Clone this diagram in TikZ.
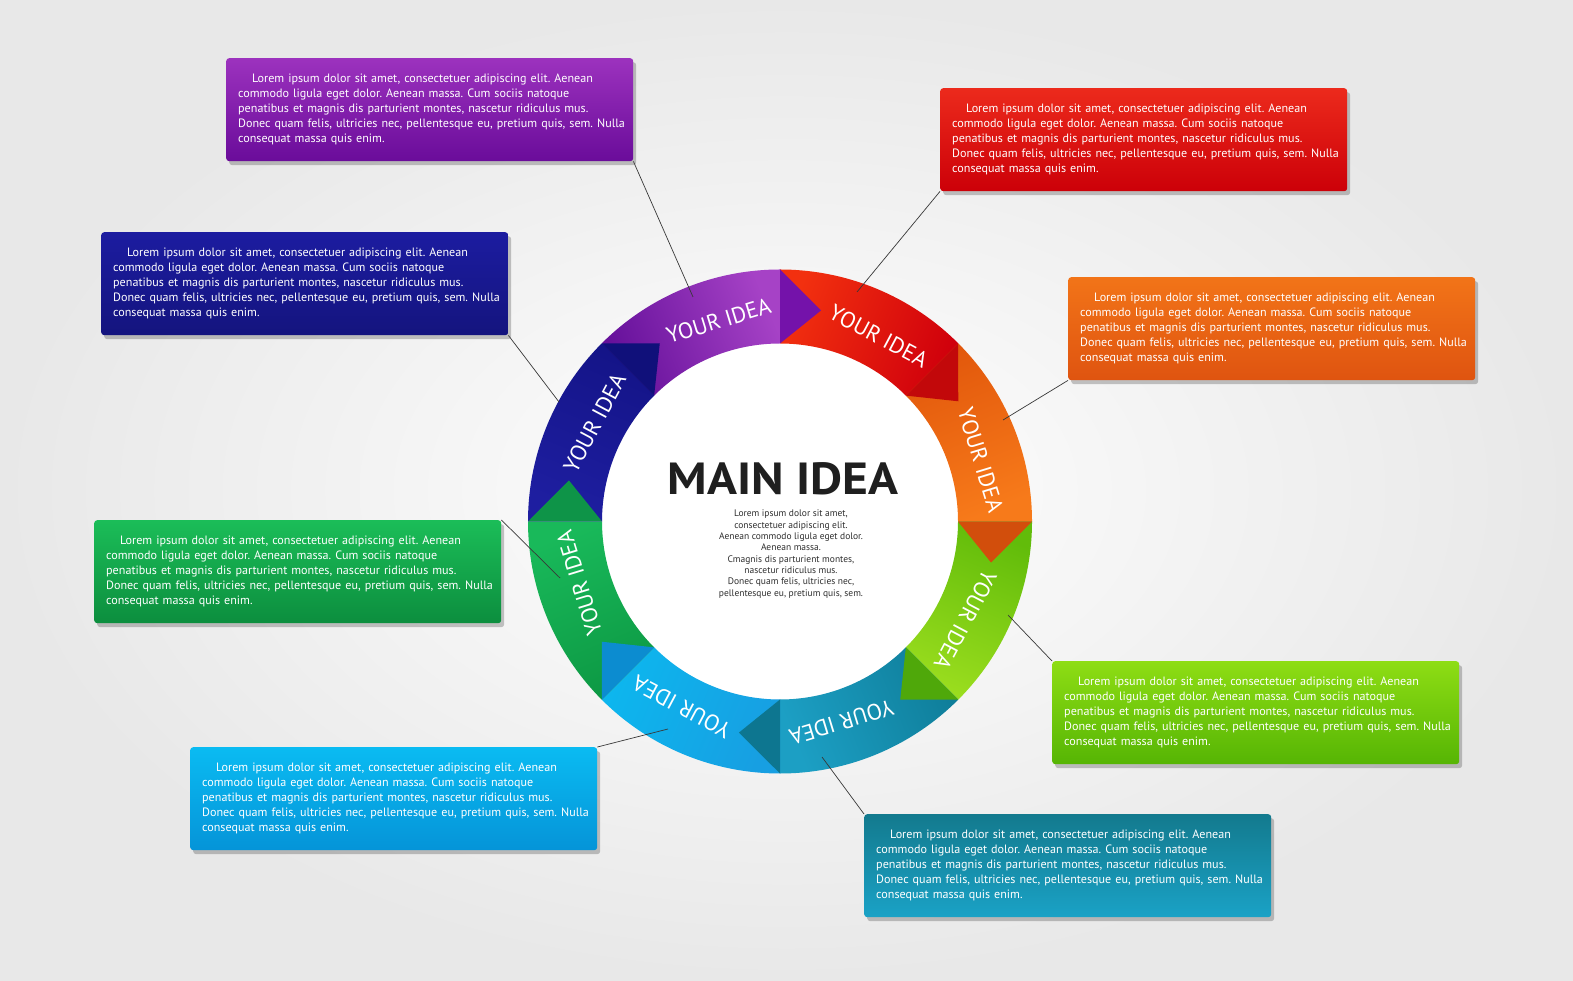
\documentclass[tikz,border=0pt]{standalone}
\usepackage{fontspec}
\setmainfont{PT Sans}
\usetikzlibrary{shadows}
\frenchspacing

% ring segment colours: start / end / tip
\definecolor{pS}{HTML}{65109A}\definecolor{pE}{HTML}{A642C6}\definecolor{pT}{HTML}{7412AA}
\definecolor{rS}{HTML}{F2300F}\definecolor{rE}{HTML}{D0000C}\definecolor{rT}{HTML}{C2080A}
\definecolor{oS}{HTML}{E2580C}\definecolor{oE}{HTML}{F77A1A}\definecolor{oT}{HTML}{D24E0C}
\definecolor{lS}{HTML}{62BC0A}\definecolor{lE}{HTML}{9ADD1E}\definecolor{lT}{HTML}{4FA80A}
\definecolor{tS}{HTML}{0F7E9A}\definecolor{tE}{HTML}{1C9FC4}\definecolor{tT}{HTML}{0D7690}
\definecolor{cS}{HTML}{179FE2}\definecolor{cE}{HTML}{0DB6EE}\definecolor{cT}{HTML}{0C8CD0}
\definecolor{gS}{HTML}{0D9944}\definecolor{gE}{HTML}{19B95A}\definecolor{gT}{HTML}{0E9448}
\definecolor{bS}{HTML}{1E1EA0}\definecolor{bE}{HTML}{141488}\definecolor{bT}{HTML}{10107A}
% box colours: top / bottom
\definecolor{PA}{HTML}{9C32BE}\definecolor{PB}{HTML}{6A0C9A}
\definecolor{RA}{HTML}{EC2A1C}\definecolor{RB}{HTML}{CC0008}
\definecolor{BA}{HTML}{1C1CA0}\definecolor{BB}{HTML}{14147E}
\definecolor{OA}{HTML}{F27418}\definecolor{OB}{HTML}{DF5410}
\definecolor{GA}{HTML}{1BBD58}\definecolor{GB}{HTML}{0C8E3E}
\definecolor{LA}{HTML}{8EDD14}\definecolor{LB}{HTML}{56B504}
\definecolor{CA}{HTML}{0ABBF2}\definecolor{CB}{HTML}{0594D8}
\definecolor{TA}{HTML}{137A8E}\definecolor{TB}{HTML}{1AA2C6}
\definecolor{bgout}{HTML}{E8E8E8}

\newcommand{\boxlorem}{\mbox{\hspace*{14pt}Lorem ipsum dolor sit amet, consectetuer adipiscing elit. Aenean}\\
\mbox{commodo ligula eget dolor. Aenean massa. Cum sociis natoque}\\
\mbox{penatibus et magnis dis parturient montes, nascetur ridiculus mus.}\\
\mbox{Donec quam felis, ultricies nec, pellentesque eu, pretium quis, sem. Nulla}\\
\mbox{consequat massa quis enim.}}

\begin{document}
\begin{tikzpicture}[x=1pt,y=1pt,
  infobox/.style={rectangle, rounded corners=3pt, anchor=north west,
    minimum height=103pt, text width=383pt, inner xsep=12pt, inner ysep=0pt,
    align=left, text=white, font=\fontsize{12.1}{15}\selectfont,
    drop shadow={shadow xshift=3pt, shadow yshift=-4pt, opacity=0.22, fill=black}},
  link/.style={draw=black!78, line width=0.7pt},
  lbl/.style={text=white, font=\fontsize{22.5}{22.5}\selectfont, inner sep=0pt}]

\useasboundingbox (0,0) rectangle (1573,980);
\shade[inner color=white, outer color=bgout] (0,0) rectangle (1573,980);

% ring
\begin{scope}[shift={(780,458.5)}]
  \fill[white] (0,0) circle[radius=178];
  \foreach \s/\ca/\cb in {135/pS/pE, 90/rS/rE, 45/oS/oE, 0/lS/lE, -45/tS/tE, -90/cS/cE, -135/gS/gE, 180/bS/bE}{
    \pgfmathsetmacro\e{\s-45}
    \pgfmathsetmacro\m{\s-22.5}
    \shade[top color=\ca, bottom color=\cb, shading angle=\m]
      (\s:252) arc[start angle=\s, end angle=\e, radius=252]
      -- (\e:178) arc[start angle=\e, end angle=\s, radius=178] -- cycle;
  }
  \foreach \e/\ct in {90/pT, 45/rT, 0/oT, -45/lT, -90/tT, -135/cT, -180/gT, 135/bT}{
    \fill[\ct] (\e:252) -- ({\e-11}:215) -- (\e:178) -- cycle;
  }
  \foreach \e [count=\i] in {90,45,0,-45,-90,-135,-180,135}{
    \node[lbl, rotate={\e+17-90}] (idea\i) at ({\e+17}:210) {YOUR IDEA};
  }
\end{scope}

% centre text
\node[font=\bfseries\fontsize{45}{45}\selectfont, text=black!88, anchor=base, inner sep=0pt] (main) at (783,485) {\scalebox{1.1}[1]{MAIN IDEA}};
\node[font=\fontsize{9.5}{11.3}\selectfont, align=center, text=black!82, anchor=north, inner sep=0pt] (sub) at (791,470)
  {Lorem ipsum dolor sit amet,\\consectetuer adipiscing elit.\\Aenean commodo ligula eget dolor.\\Aenean massa.\\Cmagnis dis parturient montes,\\nascetur ridiculus mus.\\Donec quam felis, ultricies nec,\\pellentesque eu, pretium quis, sem.};

% connector ends on the ring
\coordinate (cP) at (693,683);
\coordinate (cR) at (857,688);
\coordinate (cB) at (559,578);
\coordinate (cO) at (1003,560);
\coordinate (cG) at (560,402);
\coordinate (cL) at (1008,365);
\coordinate (cC) at (668,251);
\coordinate (cT) at (822,223);

% boxes
\node[infobox, top color=PA, bottom color=PB] (bP) at (226,922) {\boxlorem};
\node[infobox, top color=RA, bottom color=RB] (bR) at (940,892) {\boxlorem};
\node[infobox, top color=BA, bottom color=BB] (bB) at (101,748) {\boxlorem};
\node[infobox, top color=OA, bottom color=OB] (bO) at (1068,703) {\boxlorem};
\node[infobox, top color=GA, bottom color=GB] (bG) at (94,460) {\boxlorem};
\node[infobox, top color=LA, bottom color=LB] (bL) at (1052,319) {\boxlorem};
\node[infobox, top color=CA, bottom color=CB] (bC) at (190,233) {\boxlorem};
\node[infobox, top color=TA, bottom color=TB] (bT) at (864,166) {\boxlorem};

% connectors
\draw[link] (bP.south east) -- (cP);
\draw[link] (bR.south west) -- (cR);
\draw[link] (bB.south east) -- (cB);
\draw[link] (bO.south west) -- (cO);
\draw[link] (bG.north east) -- (cG);
\draw[link] (bL.north west) -- (cL);
\draw[link] (bC.north east) -- (cC);
\draw[link] (bT.north west) -- (cT);
\end{tikzpicture}
\end{document}
